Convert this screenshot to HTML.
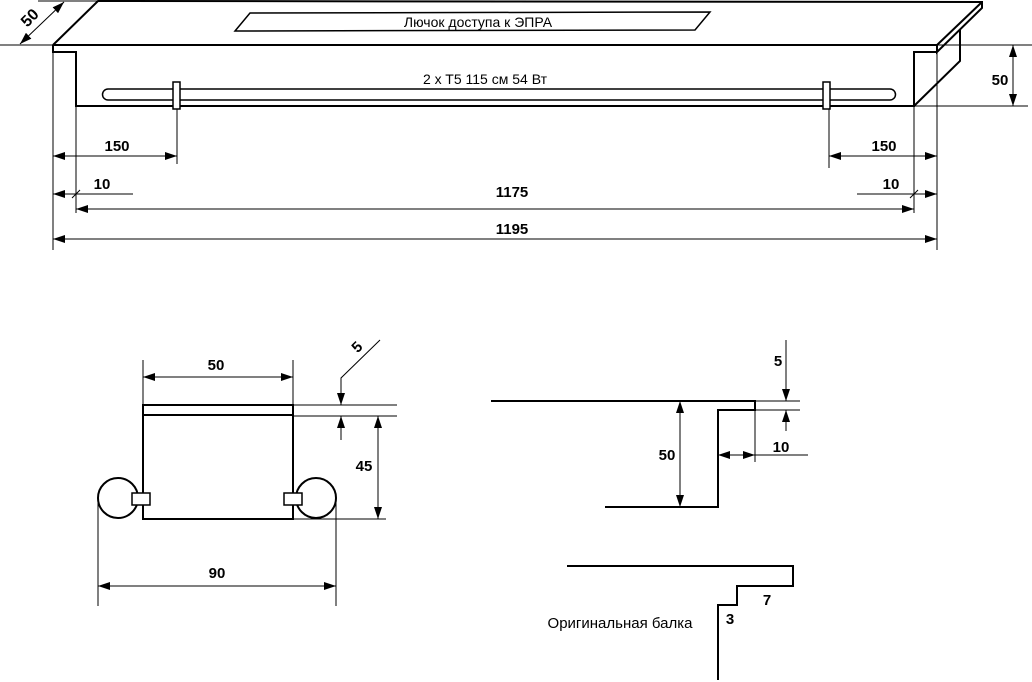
<!DOCTYPE html>
<html><head><meta charset="utf-8"><style>
html,body{margin:0;padding:0;background:#fff;}
svg{display:block;}
text{font-family:"Liberation Sans",Arial,sans-serif;fill:#000;}
.b{font-weight:bold;font-size:15px;}
.n{font-size:14px;}
</style></head><body>
<svg width="1032" height="682" viewBox="0 0 1032 682" xmlns="http://www.w3.org/2000/svg">
<defs>
<marker id="a" viewBox="0 0 12 8" refX="12" refY="4" markerWidth="12" markerHeight="8" orient="auto-start-reverse" markerUnits="userSpaceOnUse"><path d="M0,0 L12,4 L0,8 Z" fill="#000"/></marker>
</defs>
<g stroke="#000" fill="none" stroke-width="2">
<path d="M53,45 L98,1 L982,2 L982,8 L937,52 L937,45 L53,45"/>
<path d="M937,45 L982,2"/>
<path d="M53,45 L53,52 L76,52 L76,106 L914,106 L914,52 L937,52"/>
<path d="M960,30 L960,61 L914,106"/>
<path d="M235,31 L250,13 L710,12 L695,30 Z" stroke-width="1.5"/>
<path d="M108,89 L890,89 A5.5,5.5 0 0 1 890,100 L108,100 A5.5,5.5 0 0 1 108,89 Z" stroke-width="1.5"/>
<rect x="173" y="82" width="7" height="27" fill="#fff" stroke-width="1.5"/>
<rect x="823" y="82" width="7" height="27" fill="#fff" stroke-width="1.5"/>
</g>
<g stroke="#000" fill="none" stroke-width="1">
<line x1="0" y1="45" x2="53" y2="45"/>
<line x1="38" y1="1" x2="98" y2="1"/>
<line x1="20" y1="44" x2="64" y2="2" marker-start="url(#a)" marker-end="url(#a)"/>
<line x1="53" y1="45" x2="53" y2="250"/>
<line x1="937" y1="45" x2="937" y2="250"/>
<line x1="76" y1="106" x2="76" y2="213"/>
<line x1="914" y1="106" x2="914" y2="213"/>
<line x1="177" y1="109" x2="177" y2="164"/>
<line x1="829" y1="109" x2="829" y2="168"/>
<line x1="53" y1="156" x2="177" y2="156" marker-start="url(#a)" marker-end="url(#a)"/>
<line x1="829" y1="156" x2="937" y2="156" marker-start="url(#a)" marker-end="url(#a)"/>
<line x1="133" y1="194" x2="53" y2="194" marker-end="url(#a)"/>
<line x1="857" y1="194" x2="937" y2="194" marker-end="url(#a)"/>
<line x1="72" y1="198" x2="80" y2="190"/>
<line x1="910" y1="198" x2="918" y2="190"/>
<line x1="76" y1="209" x2="914" y2="209" marker-start="url(#a)" marker-end="url(#a)"/>
<line x1="53" y1="239" x2="937" y2="239" marker-start="url(#a)" marker-end="url(#a)"/>
<line x1="937" y1="45" x2="1032" y2="45"/>
<line x1="914" y1="106" x2="1028" y2="106"/>
<line x1="1013" y1="45" x2="1013" y2="106" marker-start="url(#a)" marker-end="url(#a)"/>
</g>
<text x="478" y="27" text-anchor="middle" class="n">Лючок доступа к ЭПРА</text>
<text x="485" y="84" text-anchor="middle" class="n">2 x T5 115 см 54 Вт</text>
<text class="b" x="117" y="151" text-anchor="middle">150</text>
<text class="b" x="884" y="151" text-anchor="middle">150</text>
<text class="b" x="102" y="189" text-anchor="middle">10</text>
<text class="b" x="891" y="189" text-anchor="middle">10</text>
<text class="b" x="512" y="197" text-anchor="middle">1175</text>
<text class="b" x="512" y="234" text-anchor="middle">1195</text>
<text class="b" x="1000" y="85" text-anchor="middle">50</text>
<text class="b" x="30" y="23" text-anchor="middle" transform="rotate(-45 30 18)" style="font-size:16px">50</text>

<g stroke="#000" fill="none" stroke-width="2">
<rect x="143" y="405" width="150" height="114"/>
<line x1="143" y1="415" x2="293" y2="415"/>
<circle cx="118" cy="498" r="20" fill="#fff"/>
<circle cx="316" cy="498" r="20" fill="#fff"/>
<rect x="132" y="493" width="18" height="12" fill="#fff" stroke-width="1.5"/>
<rect x="284" y="493" width="18" height="12" fill="#fff" stroke-width="1.5"/>
</g>
<g stroke="#000" fill="none" stroke-width="1">
<line x1="143" y1="360" x2="143" y2="405"/>
<line x1="293" y1="360" x2="293" y2="405"/>
<line x1="143" y1="377" x2="293" y2="377" marker-start="url(#a)" marker-end="url(#a)"/>
<line x1="293" y1="405" x2="397" y2="405"/>
<line x1="293" y1="416" x2="397" y2="416"/>
<line x1="293" y1="519" x2="386" y2="519"/>
<path d="M380,340 L341,378 L341,405" marker-end="url(#a)"/>
<line x1="341" y1="440" x2="341" y2="416" marker-end="url(#a)"/>
<line x1="378" y1="416" x2="378" y2="519" marker-start="url(#a)" marker-end="url(#a)"/>
<line x1="98" y1="498" x2="98" y2="606"/>
<line x1="336" y1="498" x2="336" y2="606"/>
<line x1="98" y1="586" x2="336" y2="586" marker-start="url(#a)" marker-end="url(#a)"/>
</g>
<text class="b" x="216" y="370" text-anchor="middle">50</text>
<text class="b" x="364" y="471" text-anchor="middle">45</text>
<text class="b" x="217" y="578" text-anchor="middle">90</text>
<text class="b" x="357" y="352" text-anchor="middle" transform="rotate(-45 357 347)">5</text>

<g stroke="#000" fill="none" stroke-width="2">
<path d="M491,401 L755,401 L755,410 L718,410 L718,507 L605,507"/>
<path d="M567,566 L793,566 L793,586 L737,586 L737,605 L718,605 L718,680"/>
</g>
<g stroke="#000" fill="none" stroke-width="1">
<line x1="680" y1="401" x2="680" y2="507" marker-start="url(#a)" marker-end="url(#a)"/>
<line x1="755" y1="401" x2="800" y2="401"/>
<line x1="755" y1="410" x2="800" y2="410"/>
<line x1="786" y1="340" x2="786" y2="401" marker-end="url(#a)"/>
<line x1="786" y1="431" x2="786" y2="410" marker-end="url(#a)"/>
<line x1="755" y1="410" x2="755" y2="462"/>
<line x1="718" y1="455" x2="755" y2="455" marker-start="url(#a)" marker-end="url(#a)"/>
<line x1="755" y1="455" x2="808" y2="455"/>
</g>
<text class="b" x="667" y="460" text-anchor="middle">50</text>
<text class="b" x="778" y="366" text-anchor="middle">5</text>
<text class="b" x="781" y="452" text-anchor="middle">10</text>
<text class="b" x="767" y="605" text-anchor="middle">7</text>
<text class="b" x="730" y="624" text-anchor="middle">3</text>
<text x="620" y="628" text-anchor="middle" style="font-size:15px">Оригинальная балка</text>
</svg>
</body></html>
